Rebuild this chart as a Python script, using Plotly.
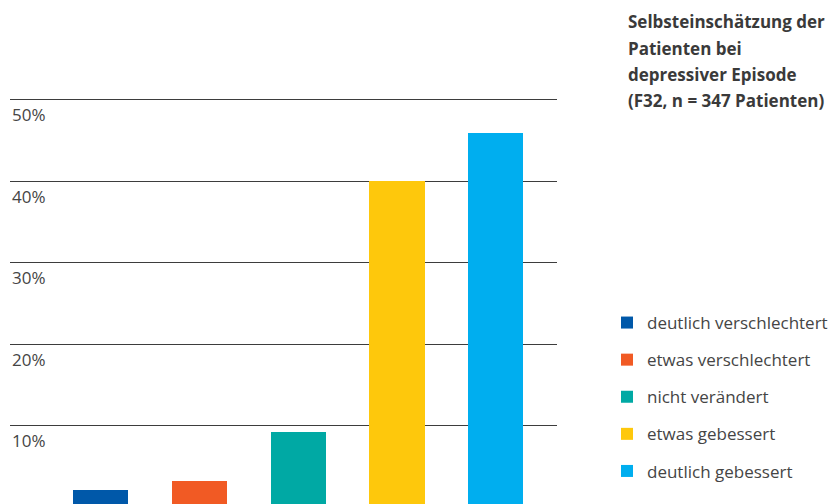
import plotly.graph_objects as go

# Share of patients per self-assessment category (percent)
categories = [
    "deutlich verschlechtert",
    "etwas verschlechtert",
    "nicht verändert",
    "etwas gebessert",
    "deutlich gebessert",
]
values = [2.2, 3.2, 9.2, 40.0, 45.9]
colors = ["#0058A9", "#F15A24", "#00A9A4", "#FEC80C", "#00AEEF"]

tick_values = [10, 20, 30, 40, 50]
tick_labels = ["10%", "20%", "30%", "40%", "50%"]

title_lines = [
    "Selbsteinschätzung der",
    "Patienten bei",
    "depressiver Episode",
    "(F32, n = 347 Patienten)",
]

W, H = 839, 504
M_L, M_R, M_T, M_B = 10, W - 557, 18, 0
PW, PH = W - M_L - M_R, H - M_T - M_B
font_family = "Open Sans, Noto Sans, sans-serif"
text_color = "#454545"


def px_to_paper_x(px):
    return (px - M_L) / PW


def px_to_paper_y(py):
    return (H - M_B - py) / PH


fig = go.Figure()
for i, (cat, val, col) in enumerate(zip(categories, values, colors)):
    fig.add_trace(go.Bar(
        x=[i], y=[val], name=cat, legendgroup=cat,
        marker=dict(color=col, line=dict(width=0)),
        width=0.56,
        hoverinfo="name+y",
    ))

# Axis value labels, placed just below each gridline at the left edge
annotations = []
for v, lab in zip(tick_values, tick_labels):
    annotations.append(dict(
        x=0, xref="paper", xanchor="left",
        y=v, yref="y", yanchor="middle", yshift=-15,
        text=lab, showarrow=False,
        font=dict(family=font_family, size=17, color=text_color),
    ))

# Title block in the top right corner
for k, line in enumerate(title_lines):
    annotations.append(dict(
        x=px_to_paper_x(626), xref="paper", xanchor="left",
        y=px_to_paper_y(22 + 26.3 * k), yref="paper", yanchor="middle",
        text="<b>" + line + "</b>", showarrow=False,
        font=dict(family=font_family, size=17, color="#3a3a3a"),
    ))

fig.update_layout(
    width=W, height=H,
    paper_bgcolor="white", plot_bgcolor="white",
    margin=dict(l=M_L, r=M_R, t=M_T, b=M_B, pad=0),
    barmode="overlay",
    bargap=0,
    xaxis=dict(
        range=[-0.92, 4.62], showgrid=False, zeroline=False,
        showticklabels=False, ticks="", showline=False,
        fixedrange=True,
    ),
    yaxis=dict(
        range=[0.43, 60], tickvals=tick_values, showticklabels=False,
        showgrid=True, gridcolor="#3d3d3d", gridwidth=1,
        zeroline=False, showline=False, ticks="",
        fixedrange=True,
    ),
    showlegend=True,
    legend=dict(
        xref="container", yref="container",
        x=607 / W, xanchor="left",
        y=1 - 305 / H, yanchor="top",
        font=dict(family=font_family, size=17, color=text_color),
        tracegroupgap=12,
        itemclick=False, itemdoubleclick=False,
        bgcolor="rgba(0,0,0,0)",
    ),
    annotations=annotations,
)

fig.write_html("out.html")
